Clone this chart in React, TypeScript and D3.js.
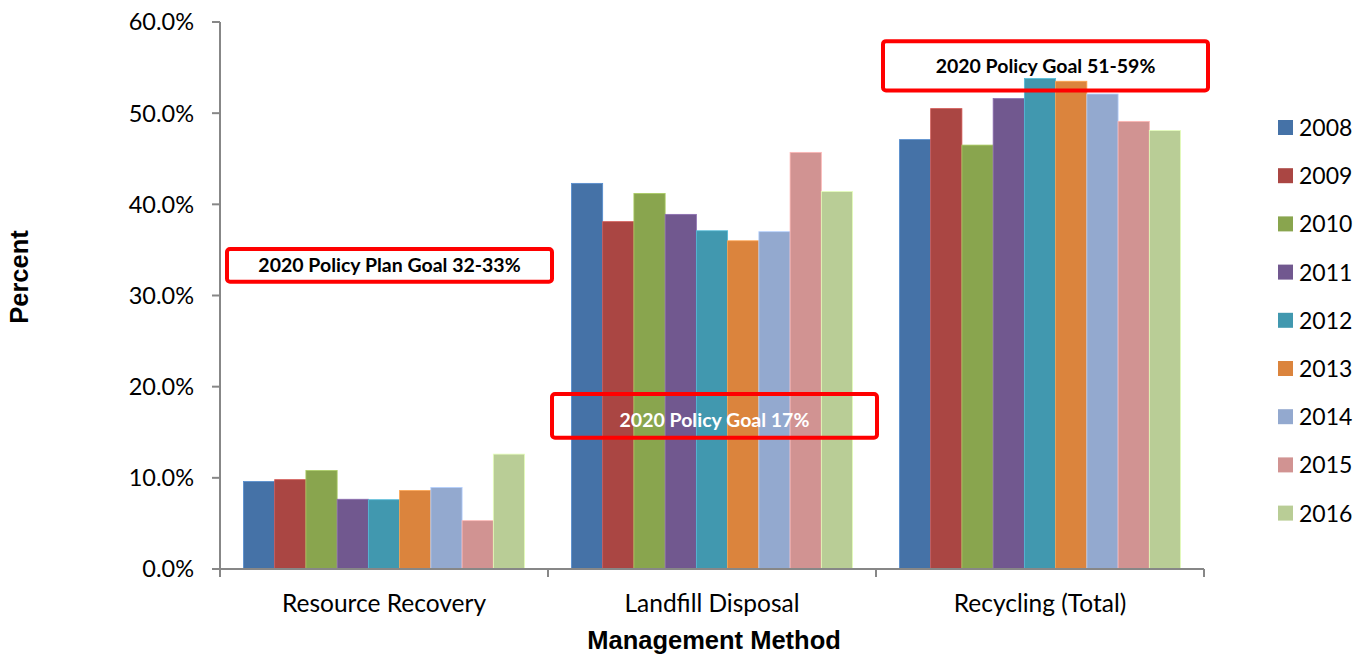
import React from "react";
import * as d3 from "d3";

// Share of waste by management method, 2008–2016
const categories = ["Resource Recovery", "Landfill Disposal", "Recycling (Total)"];
const years = ["2008", "2009", "2010", "2011", "2012", "2013", "2014", "2015", "2016"];

const resourceRecovery = [9.6, 9.8, 10.8, 7.65, 7.6, 8.6, 8.95, 5.3, 12.6];
const landfillDisposal = [42.3, 38.1, 41.2, 38.9, 37.1, 36.0, 37.0, 45.7, 41.4];
const recyclingTotal = [47.1, 50.5, 46.5, 51.6, 53.8, 53.5, 52.1, 49.1, 48.1];

const seriesByCategory = [resourceRecovery, landfillDisposal, recyclingTotal];

const yearColors = [
  "#4572A7", "#AA4643", "#89A54E", "#71588F", "#4198AF",
  "#DB843D", "#93A9CF", "#D19392", "#B9CD96",
];

const yTicks = [0, 10, 20, 30, 40, 50, 60];

// Policy goal call-outs: label, the category they sit over and their value band
const goalLabels = [
  "2020 Policy Plan Goal 32-33%",
  "2020 Policy Goal 17%",
  "2020 Policy Goal 51-59%",
];
const goalCategory = ["Resource Recovery", "Landfill Disposal", "Recycling (Total)"];
const goalLow = [31.5, 14.4, 52.5];
const goalHigh = [35.1, 19.2, 57.9];
const goalTextColor = ["#000000", "#FFFFFF", "#000000"];

const W = 1365;
const H = 657;
const axisColor = "#878787";
const labelFont = "Lato, 'Open Sans', sans-serif";
const titleFont = "'Liberation Sans', Arial, sans-serif";

export default function App() {
  const x = d3.scaleBand<string>().domain(categories).range([220, 1204]).paddingInner(0).paddingOuter(0);
  const xInner = d3
    .scaleBand<string>()
    .domain(years)
    .range([0, x.bandwidth()])
    .paddingInner(0)
    .paddingOuter(0.75);
  const y = d3.scaleLinear().domain([0, 60]).range([569, 22]);

  const fmt = (v: number) => `${v.toFixed(1)}%`;
  const lighter = (c: string) => d3.color(c)!.brighter(0.6).formatHex();

  const boundaries = [...categories.map((c) => x(c)!), x(categories[2])! + x.bandwidth()];
  const boxOffset = [7, 4, 7];
  const textShift = [0, 4, 0];

  return (
    <svg
      width={W}
      height={H}
      viewBox={`0 0 ${W} ${H}`}
      style={{ position: "absolute", left: 0, top: 0, background: "#fff" }}
    >
      {/* bars */}
      {categories.map((cat, ci) => (
        <g key={cat} transform={`translate(${x(cat)},0)`}>
          {years.map((yr, yi) => {
            const v = seriesByCategory[ci][yi];
            return (
              <rect
                key={yr}
                x={xInner(yr)}
                y={y(v)}
                width={xInner.bandwidth()}
                height={y(0) - y(v)}
                fill={yearColors[yi]}
                stroke={lighter(yearColors[yi])}
                strokeWidth={0.8}
              />
            );
          })}
        </g>
      ))}

      {/* y axis */}
      <line x1={220} x2={220} y1={y(60)} y2={y(0)} stroke={axisColor} strokeWidth={2} />
      {yTicks.map((t) => (
        <g key={t}>
          <line x1={212} x2={220} y1={y(t)} y2={y(t)} stroke={axisColor} strokeWidth={2} />
          <text
            x={194}
            y={y(t)}
            dy="0.36em"
            textAnchor="end"
            fontFamily={labelFont}
            fontSize={23.5}
            fill="#000"
          >
            {fmt(t)}
          </text>
        </g>
      ))}

      {/* x axis */}
      <line x1={212} x2={1204} y1={y(0)} y2={y(0)} stroke={axisColor} strokeWidth={2} />
      {boundaries.map((bx, i) => (
        <line key={i} x1={bx} x2={bx} y1={y(0)} y2={y(0) + 8} stroke={axisColor} strokeWidth={2} />
      ))}
      {categories.map((cat) => (
        <text
          key={cat}
          x={x(cat)! + x.bandwidth() / 2}
          y={612}
          textAnchor="middle"
          fontFamily={labelFont}
          fontSize={24.5}
          fill="#000"
        >
          {cat}
        </text>
      ))}

      {/* axis titles */}
      <text
        x={714}
        y={649}
        textAnchor="middle"
        fontFamily={titleFont}
        fontWeight="bold"
        fontSize={25.5}
        fill="#000"
      >
        Management Method
      </text>
      <text
        transform={`translate(28,277) rotate(-90)`}
        textAnchor="middle"
        fontFamily={titleFont}
        fontWeight="bold"
        fontSize={25.5}
        fill="#000"
      >
        Percent
      </text>

      {/* policy goal call-outs */}
      {goalLabels.map((label, i) => {
        const left = x(goalCategory[i])! + boxOffset[i];
        const right = left + 325;
        const top = y(goalHigh[i]);
        const bottom = y(goalLow[i]);
        return (
          <g key={label}>
            <text
              x={(left + right) / 2}
              y={(top + bottom) / 2 + textShift[i]}
              dy="0.36em"
              textAnchor="middle"
              fontFamily={labelFont}
              fontWeight="bold"
              fontSize={19.5}
              fill={goalTextColor[i]}
            >
              {label}
            </text>
            <rect
              x={left}
              y={top}
              width={right - left}
              height={bottom - top}
              rx={3}
              fill="none"
              stroke="#FF0000"
              strokeWidth={4}
            />
          </g>
        );
      })}

      {/* legend */}
      {years.map((yr, i) => (
        <g key={yr} transform={`translate(1278,${120 + i * 48.2})`}>
          <rect width={15} height={15} fill={yearColors[i]} />
          <text x={21} y={16} fontFamily={labelFont} fontSize={23} fill="#000">
            {yr}
          </text>
        </g>
      ))}
    </svg>
  );
}
